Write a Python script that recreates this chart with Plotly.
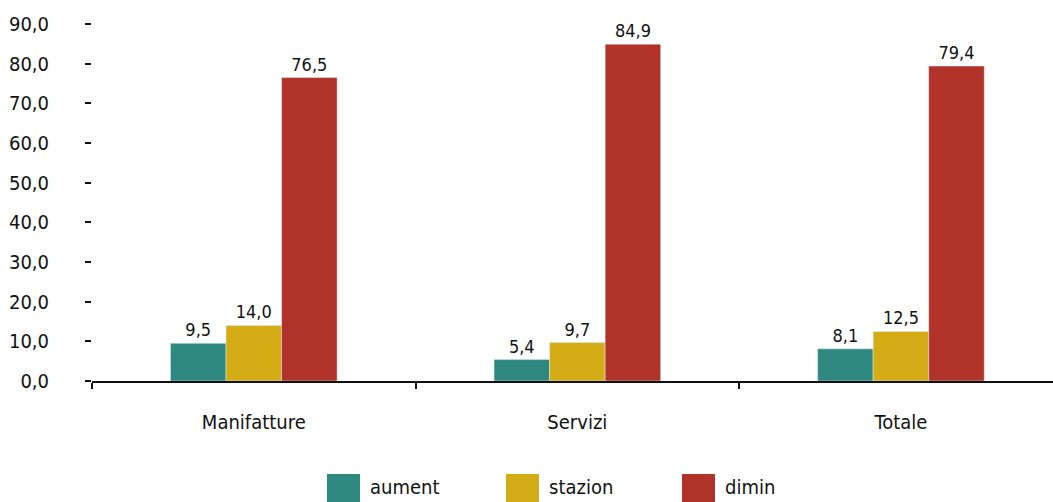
import plotly.graph_objects as go

categories = ["Manifatture", "Servizi", "Totale"]
series_names = ["aument", "stazion", "dimin"]
aument = [9.5, 5.4, 8.1]
stazion = [14.0, 9.7, 12.5]
dimin = [76.5, 84.9, 79.4]
y_ticks = [0, 10, 20, 30, 40, 50, 60, 70, 80, 90]

colors = ["#2E8880", "#D4AC16", "#B03228"]
FONT = "DejaVu Sans Condensed, Liberation Sans Narrow, sans-serif"

fig = go.Figure()
for name, vals, col in zip(series_names, [aument, stazion, dimin], colors):
    fig.add_trace(go.Bar(
        x=categories, y=vals, name=name, marker_color=col,
        texttemplate="%{y:.1f}", textposition="outside",
        textfont=dict(family=FONT, size=18, color="#111111"),
        cliponaxis=False, showlegend=False,
    ))

W, H = 1053, 502
ml, mr, mt, mb = 92, 0, 24, 121
fig.update_layout(
    width=W, height=H,
    margin=dict(l=ml, r=mr, t=mt, b=mb, autoexpand=False),
    paper_bgcolor="white", plot_bgcolor="white",
    barmode="group", bargap=0.485, bargroupgap=0,
    separators=",.",
    font=dict(family=FONT, size=20, color="#111111"),
    xaxis=dict(
        type="category", range=[-0.5, 2.47], automargin=False,
        showline=True, linecolor="#111111", linewidth=2,
        ticks="outside", tickson="boundaries", ticklen=6, tickwidth=2,
        tickcolor="#111111", showgrid=False,
        tickfont=dict(family=FONT, size=20, color="#111111"),
        ticklabelstandoff=22,
    ),
    yaxis=dict(
        range=[0, 90], tickvals=y_ticks, tickformat=".1f", automargin=False,
        showline=False, showgrid=False, zeroline=False,
        ticks="outside", ticklen=6, tickwidth=1.5, tickcolor="#111111",
        tickfont=dict(family=FONT, size=20, color="#111111"),
        ticklabelstandoff=32,
    ),
)

# legend drawn manually (large square swatches)
leg_x = [327, 506, 682]
ph = H - mt - mb
pw = W - ml - mr
for name, col, x0 in zip(series_names, colors, leg_x):
    fig.add_shape(type="rect", xref="paper", yref="paper",
                  x0=(x0 - ml) / pw, x1=(x0 + 33 - ml) / pw,
                  y0=-(503 - 381) / ph, y1=-(474 - 381) / ph,
                  fillcolor=col, line_width=0, layer="above")
    fig.add_annotation(xref="paper", yref="paper",
                       x=(x0 + 41 - ml) / pw, y=-(487 - 381) / ph,
                       xanchor="left", yanchor="middle", text=name, showarrow=False,
                       font=dict(family=FONT, size=20, color="#111111"))

fig.write_html("out.html", config={"displayModeBar": False},
               post_script="document.body.style.margin='0';document.body.style.overflow='hidden';")
